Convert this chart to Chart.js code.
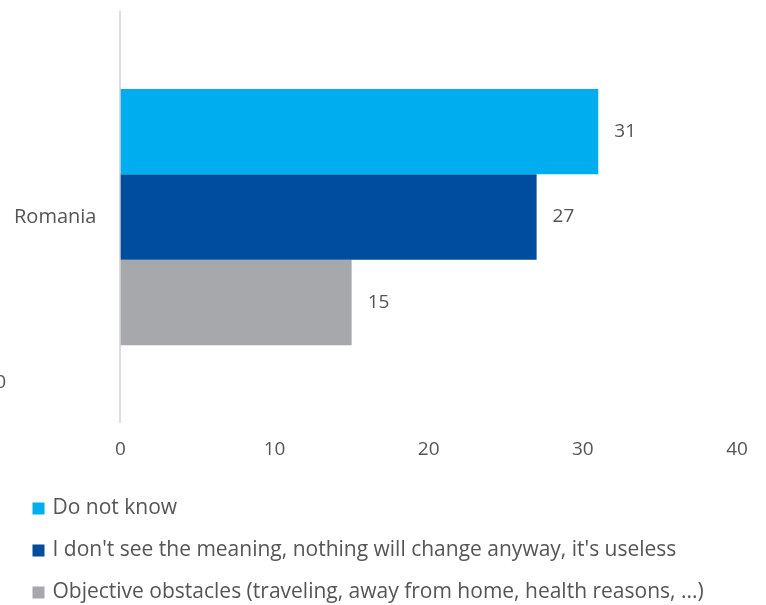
<!DOCTYPE html>
<html>
<head>
<meta charset="utf-8">
<script src="https://cdn.jsdelivr.net/npm/chart.js@4"></script>
<style>
    html, body { margin: 0; padding: 0; background: #fff; }
    #wrap { width: 766px; height: 605px; position: relative; }
</style>
</head>
<body>
<div id="wrap"><canvas id="reasonsChart"></canvas></div>
<script>
// Data
const countries = ["Romania"];
const seriesNames = [
    "Do not know",
    "I don't see the meaning, nothing will change anyway, it's useless",
    "Objective obstacles (traveling, away from home, health reasons, ...)"
];
const doNotKnow = [31];
const noMeaning = [27];
const obstacles = [15];
const xTicks = [0, 10, 20, 30, 40];
const strayLabel = "0";

const colors = ["#00aeef", "#004da0", "#a7a8ab"];
const textColor = "#555";
const fontFamily = "'Open Sans', Lato, sans-serif";

// value labels at the end of each bar
const valueLabels = {
    id: "valueLabels",
    afterDatasetsDraw(chart) {
        const ctx = chart.ctx;
        ctx.save();
        ctx.font = "19px " + fontFamily;
        ctx.fillStyle = textColor;
        ctx.textAlign = "left";
        ctx.textBaseline = "middle";
        chart.data.datasets.forEach((ds, i) => {
            chart.getDatasetMeta(i).data.forEach((bar, j) => {
                ctx.fillText(ds.data[j], bar.x + 16, bar.y);
            });
        });
        ctx.restore();
    }
};

// clipped label at the left edge
const edgeLabel = {
    id: "edgeLabel",
    afterDraw(chart) {
        const ctx = chart.ctx;
        ctx.save();
        ctx.font = "19px " + fontFamily;
        ctx.fillStyle = textColor;
        ctx.textAlign = "right";
        ctx.textBaseline = "middle";
        ctx.fillText(strayLabel, 6, 383);
        ctx.restore();
    }
};

const ctx = document.getElementById("reasonsChart");
new Chart(ctx, {
    type: "bar",
    data: {
        labels: countries,
        datasets: [doNotKnow, noMeaning, obstacles].map((d, i) => ({
            label: seriesNames[i],
            data: d,
            backgroundColor: colors[i],
            borderWidth: 0,
            categoryPercentage: 0.625,
            barPercentage: 1
        }))
    },
    options: {
        indexAxis: "y",
        responsive: true,
        maintainAspectRatio: false,
        animation: false,
        layout: {
            padding: { top: 10, left: 14, right: 29, bottom: -8 }
        },
        plugins: {
            legend: {
                position: "bottom",
                align: "start",
                labels: {
                    // small box, widened by a stroke of the same colour
                    boxWidth: 7,
                    boxHeight: 7,
                    padding: 21,
                    color: textColor,
                    font: { family: fontFamily, size: 21 },
                    generateLabels(chart) {
                        const items = Chart.defaults.plugins.legend.labels.generateLabels(chart);
                        items.forEach(it => {
                            it.lineWidth = 5;
                            it.strokeStyle = it.fillStyle;
                        });
                        return items;
                    }
                }
            },
            tooltip: { enabled: false }
        },
        scales: {
            x: {
                min: 0,
                max: 40,
                afterBuildTicks: (axis) => {
                    axis.ticks = xTicks.map(v => ({ value: v }));
                },
                afterFit: (axis) => { axis.height = 55; },
                grid: { display: false, drawTicks: false },
                border: { display: false },
                ticks: {
                    padding: 16,
                    color: textColor,
                    font: { family: fontFamily, size: 19 }
                }
            },
            y: {
                grid: {
                    display: true,
                    drawOnChartArea: false,
                    drawTicks: true,
                    tickLength: 24,
                    tickColor: "rgba(0,0,0,0)"
                },
                border: { display: true, color: "#dcdcdc", width: 2 },
                ticks: {
                    padding: 0,
                    color: textColor,
                    font: { family: fontFamily, size: 20 }
                }
            }
        }
    },
    plugins: [valueLabels, edgeLabel]
});
</script>
</body>
</html>
